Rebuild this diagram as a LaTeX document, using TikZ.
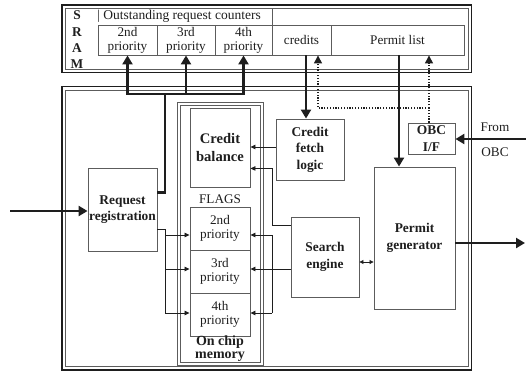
\documentclass[tikz,border=0pt]{standalone}
\usepackage{fontspec}
\setmainfont{Liberation Serif}
\usetikzlibrary{arrows.meta,calc}
\definecolor{boxgray}{HTML}{5C5C5C}
\definecolor{ink}{HTML}{1E1E1E}
\begin{document}
\begin{tikzpicture}[x=1pt,y=-1pt,
  box/.style={draw=boxgray, line width=0.9pt, inner sep=0pt, align=center, text=ink},
  rt/.style={font=\fontsize{13.2}{14}\selectfont},
  bt/.style={font=\fontsize{13.4}{16.5}\selectfont\bfseries},
  thickline/.style={draw=ink, line width=2.6pt},
  thickarrow/.style={draw=ink, line width=2.6pt, -{Triangle[length=9pt,width=10pt]}},
  thinline/.style={draw=ink, line width=0.8pt},
  thinarrow/.style={draw=ink, line width=0.8pt, -{Triangle[length=5pt,width=4.5pt]}},
  dualarrow/.style={draw=ink, line width=0.8pt, {Triangle[length=4pt,width=4pt]}-{Triangle[length=4pt,width=4pt]}},
  dotarrow/.style={draw=ink, line width=1.4pt, dash pattern=on 1.3pt off 1.5pt, -{Triangle[length=8pt,width=8pt]}},
  dotline/.style={draw=ink, line width=1.4pt, dash pattern=on 1.3pt off 1.5pt},
  lbl/.style={text=ink, inner sep=0pt, align=center}
]
\useasboundingbox (0,0) rectangle (526,372);

% SRAM frame
\draw[draw=ink, line width=1.9pt] (62,5) rectangle (471.5,72.5);
\draw[draw=boxgray, line width=0.8pt] (65.5,8.5) rectangle (468,69.5);
\draw[draw=boxgray, line width=0.8pt] (98,25) -- (272,25);
\draw[draw=boxgray, line width=0.8pt] (272,8.5) -- (272,25) -- (464,25);
\node[lbl, font=\fontsize{13.5}{14}\selectfont, anchor=west] (orc) at (97,16) {| Outstanding request counters};
\node[lbl, bt] (sS) at (77,15) {S};
\node[lbl, bt] (sR) at (77,32) {R};
\node[lbl, bt] (sA) at (77,48) {A};
\node[lbl, bt] (sM) at (77,64) {M};

\node[box, rt, minimum width=59pt, minimum height=30pt] (c2) at (127.5,40) {2nd\\priority};
\node[box, rt, minimum width=58pt, minimum height=30pt] (c3) at (186,40) {3rd\\priority};
\node[box, rt, minimum width=57pt, minimum height=30pt] (c4) at (243.5,40) {4th\\priority};
\node[box, rt, minimum width=59pt, minimum height=30pt] (ccred) at (301.5,40) {credits};
\node[box, rt, minimum width=133pt, minimum height=30pt] (cperm) at (397.5,40) {Permit list};

% main frame
\draw[draw=ink, line width=1.9pt] (62,86.5) rectangle (471.5,370);
\draw[draw=boxgray, line width=0.8pt] (65.5,90) rectangle (468,366.5);

% on chip memory frame
\draw[draw=boxgray, line width=0.9pt] (177.3,102.3) rectangle (263.3,365.7);
\draw[draw=boxgray, line width=0.9pt] (180.7,105.7) rectangle (260,362.3);

\node[box, font=\fontsize{14.6}{18}\selectfont\bfseries, minimum width=60pt, minimum height=79pt] (cb) at (220,147.5) {Credit\\balance};
\node[lbl, rt] (flags) at (220,199) {FLAGS};
\node[box, rt, minimum width=60pt, minimum height=43pt] (f2) at (220,228.5) {2nd\\priority};
\node[box, rt, minimum width=60pt, minimum height=43pt] (f3) at (220,271.5) {3rd\\priority};
\node[box, rt, minimum width=60pt, minimum height=43pt] (f4) at (220,314.5) {4th\\priority};
\node[lbl, font=\fontsize{14}{13}\selectfont\bfseries] (ocm) at (220,348.8) {On chip\\memory};

\node[box, bt, minimum width=69pt, minimum height=83pt] (rr) at (122.5,209.5) {Request\\registration};
\node[box, bt, minimum width=68pt, minimum height=61pt] (cfl) at (310,149.5) {Credit\\fetch\\logic};
\node[box, bt, minimum width=47pt, minimum height=31pt] (obc) at (431.5,138.5) {OBC\\I/F};
\node[box, bt, minimum width=81pt, minimum height=142pt] (pg) at (414.5,238) {Permit\\generator};
\node[box, bt, minimum width=68pt, minimum height=80pt] (se) at (325,257) {Search\\engine};
\node[lbl, rt] (from) at (495,127) {From};
\node[lbl, rt] (obclbl) at (495,152) {OBC};

% thick bus from request registration to counters
\coordinate (bus) at (165,94);
\draw[thickline] ($(rr.north east)+(0,25)$) -| (bus);
\draw[thickarrow] (bus) -| (c2.south);
\draw[thickarrow] (bus) -| (c3.south);
\draw[thickarrow] (bus) -| (c4.south);

% credits -> credit fetch logic
\coordinate (cr) at ($(ccred.south)+(4.5,0)$);
\draw[thickarrow] (cr) -- (cr |- cfl.north);
% permit list -> permit generator
\coordinate (pl) at ($(cperm.south)+(1.5,0)$);
\draw[thickarrow] (pl) -- (pl |- pg.north);

% dotted from OBC I/F
\coordinate (dj) at (429,108);
\coordinate (dc) at ($(ccred.south)+(16.5,0)$);
\draw[dotline] (obc.north -| dj) -- (dj);
\draw[dotarrow] (dj) -- (dj |- cperm.south);
\draw[dotarrow] (dj) -| (dc);

% external arrows
\coordinate (inp) at (10,211);
\draw[thickarrow] (inp) -- (inp -| rr.west);
\coordinate (fo) at (526,139);
\draw[thickarrow] (fo) -- (fo -| obc.east);
\coordinate (outp) at (525,243);
\draw[thickarrow] (outp -| pg.east) -- (outp);

% thin connections to credit balance
\coordinate (k1) at ($(cfl.west)+(0,-2.5)$);
\draw[thinarrow] (k1) -- (k1 -| cb.east);
\coordinate (vx) at (272,0);
\coordinate (k2) at ($(se.north west)+(0,9)$);
\coordinate (cb2) at ($(cb.south east)+(0,-19)$);
\draw[thinarrow] (k2) -- (k2 -| vx) -- (vx |- cb2) -- (cb2);

% search engine -> flags
\coordinate (ya) at (0,235);
\coordinate (yb) at (0,269);
\coordinate (yc) at (0,313);
\draw[thinarrow] (se.west |- yb) -- (f3.east |- yb);
\draw[thinline] (vx |- ya) -- (vx |- yc);
\draw[thinarrow] (vx |- ya) -- (f2.east |- ya);
\draw[thinarrow] (vx |- yc) -- (f4.east |- yc);

% request registration -> flags
\coordinate (lx) at (165,229);
\draw[thinline] (lx -| rr.east) -- (lx) -- (lx |- yc);
\draw[thinarrow] (lx |- ya) -- (f2.west |- ya);
\draw[thinarrow] (lx |- yb) -- (f3.west |- yb);
\draw[thinarrow] (lx |- yc) -- (f4.west |- yc);

% search engine <-> permit generator
\coordinate (dd) at ($(se.east)+(0,5)$);
\draw[dualarrow] (dd) -- (dd -| pg.west);
\end{tikzpicture}
\end{document}
